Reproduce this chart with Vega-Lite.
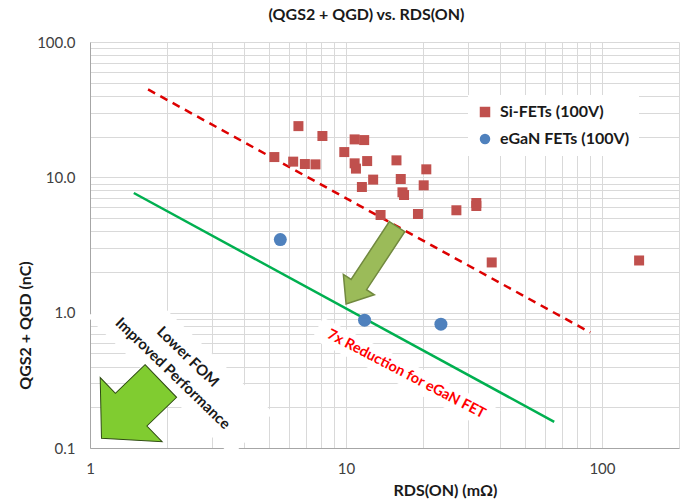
{
  "$schema": "https://vega.github.io/schema/vega-lite/v6.json",
  "width": 589,
  "height": 406,
  "autosize": {"type": "none"},
  "padding": {"left": 90, "top": 42, "right": 2, "bottom": 55},
  "background": "white",
  "config": {"font": "Lato", "view": {"stroke": null}},
  "title": {
    "text": "(QGS2 + QGD) vs. RDS(ON)",
    "fontSize": 16,
    "fontWeight": "bold",
    "font": "Lato",
    "color": "#1a1a1a",
    "anchor": "middle",
    "frame": "group",
    "dx": -18,
    "offset": 12
  },
  "datasets": {
    "fets": [
      {"series": "Si-FETs (100V)", "rds": 6.52, "q": 23.9},
      {"series": "Si-FETs (100V)", "rds": 8.09, "q": 20.2},
      {"series": "Si-FETs (100V)", "rds": 10.81, "q": 19.07},
      {"series": "Si-FETs (100V)", "rds": 11.78, "q": 18.85},
      {"series": "Si-FETs (100V)", "rds": 9.85, "q": 15.37},
      {"series": "Si-FETs (100V)", "rds": 5.25, "q": 14.12},
      {"series": "Si-FETs (100V)", "rds": 6.22, "q": 13.06},
      {"series": "Si-FETs (100V)", "rds": 6.91, "q": 12.54},
      {"series": "Si-FETs (100V)", "rds": 7.6, "q": 12.47},
      {"series": "Si-FETs (100V)", "rds": 10.81, "q": 12.69},
      {"series": "Si-FETs (100V)", "rds": 10.94, "q": 11.6},
      {"series": "Si-FETs (100V)", "rds": 12.1, "q": 13.19},
      {"series": "Si-FETs (100V)", "rds": 15.75, "q": 13.35},
      {"series": "Si-FETs (100V)", "rds": 20.6, "q": 11.46},
      {"series": "Si-FETs (100V)", "rds": 12.77, "q": 9.62},
      {"series": "Si-FETs (100V)", "rds": 16.37, "q": 9.72},
      {"series": "Si-FETs (100V)", "rds": 11.54, "q": 8.48},
      {"series": "Si-FETs (100V)", "rds": 20.12, "q": 8.73},
      {"series": "Si-FETs (100V)", "rds": 16.62, "q": 7.75},
      {"series": "Si-FETs (100V)", "rds": 16.86, "q": 7.4},
      {"series": "Si-FETs (100V)", "rds": 13.65, "q": 5.27},
      {"series": "Si-FETs (100V)", "rds": 19.11, "q": 5.36},
      {"series": "Si-FETs (100V)", "rds": 27.0, "q": 5.71},
      {"series": "Si-FETs (100V)", "rds": 32.3, "q": 6.46},
      {"series": "Si-FETs (100V)", "rds": 32.3, "q": 6.14},
      {"series": "Si-FETs (100V)", "rds": 37.1, "q": 2.35},
      {"series": "Si-FETs (100V)", "rds": 139.7, "q": 2.43},
      {"series": "eGaN FETs (100V)", "rds": 5.54, "q": 3.47},
      {"series": "eGaN FETs (100V)", "rds": 11.82, "q": 0.88},
      {"series": "eGaN FETs (100V)", "rds": 23.49, "q": 0.822}
    ],
    "trends": [
      {"trend": "Si", "rds": 1.686, "q": 44.6},
      {"trend": "Si", "rds": 90.0, "q": 0.714},
      {"trend": "eGaN", "rds": 1.483, "q": 7.66},
      {"trend": "eGaN", "rds": 65.1, "q": 0.156}
    ],
    "boxes": [
      {"box": "fom", "rds": 2.258, "q": 0.411},
      {"box": "reduction", "rds": 17.2, "q": 0.35}
    ],
    "arrows": [
      {"arrow": "reduction", "rds": 12.59, "q": 2.24},
      {"arrow": "fom", "rds": 1.448, "q": 0.192}
    ],
    "notes": [
      {"note": "Lower FOM", "group": "fom", "rds": 2.413, "q": 0.472},
      {"note": "Improved Performance", "group": "fom", "rds": 2.109, "q": 0.356},
      {"note": "7x Reduction for eGaN FET", "group": "reduction", "rds": 17.2, "q": 0.35}
    ]
  },
  "encoding": {
    "x": {
      "field": "rds",
      "type": "quantitative",
      "scale": {"type": "log", "domain": [1, 200], "nice": false},
      "axis": {
        "values": [1, 2, 3, 4, 5, 6, 7, 8, 9, 10, 20, 30, 40, 50, 60, 70, 80, 90, 100, 200],
        "labelExpr": "indexof([1,10,100], datum.value) >= 0 ? format(datum.value, 'd') : ''",
        "grid": true,
        "gridColor": "#D9D9D9",
        "gridWidth": 1,
        "ticks": false,
        "domainColor": "#A6A6A6",
        "labelFontSize": 15,
        "labelColor": "#404040",
        "labelPadding": 13,
        "labelOverlap": false,
        "labelFlush": false,
        "labelBound": false,
        "title": "RDS(ON)  (mΩ)",
        "titleFontSize": 16,
        "titleFontWeight": "bold",
        "titleColor": "#1a1a1a",
        "titleX": 355,
        "titleY": 42,
        "titleAlign": "center",
        "titleBaseline": "middle"
      }
    },
    "y": {
      "field": "q",
      "type": "quantitative",
      "scale": {"type": "log", "domain": [0.1, 100], "nice": false},
      "axis": {
        "values": [0.1, 0.2, 0.3, 0.4, 0.5, 0.6, 0.7, 0.8, 0.9, 1, 2, 3, 4, 5, 6, 7, 8, 9, 10, 20, 30, 40, 50, 60, 70, 80, 90, 100],
        "labelExpr": "indexof([0.1,1,10,100], datum.value) >= 0 ? format(datum.value, '.1f') : ''",
        "grid": true,
        "gridColor": "#D9D9D9",
        "gridWidth": 1,
        "ticks": false,
        "domainColor": "#A6A6A6",
        "labelFontSize": 15,
        "labelColor": "#404040",
        "labelPadding": 15,
        "labelOverlap": false,
        "labelFlush": false,
        "labelBound": false,
        "title": "QGS2 + QGD (nC)",
        "titleFontSize": 16,
        "titleFontWeight": "bold",
        "titleColor": "#1a1a1a",
        "titleX": -57,
        "titleY": 283
      }
    }
  },
  "layer": [
    {
      "data": {"name": "boxes"},
      "transform": [{"filter": "datum.box == 'fom'"}],
      "mark": {"type": "point", "filled": true, "fill": "white", "strokeWidth": 0, "opacity": 1, "shape": "M-1,-0.3 L1,-0.3 L1,0.3 L-1,0.3 Z", "size": 40000, "angle": 44}
    },
    {
      "data": {"name": "boxes"},
      "transform": [{"filter": "datum.box == 'reduction'"}],
      "mark": {"type": "point", "filled": true, "fill": "white", "strokeWidth": 0, "opacity": 1, "shape": "M-1,-0.12 L1,-0.12 L1,0.12 L-1,0.12 Z", "size": 40000, "angle": 27.5}
    },
    {
      "data": {"name": "trends"},
      "transform": [{"filter": "datum.trend == 'Si'"}],
      "mark": {"type": "line", "color": "#DD0000", "strokeWidth": 2.5, "strokeDash": [8, 6]},
      "encoding": {}
    },
    {
      "data": {"name": "trends"},
      "transform": [{"filter": "datum.trend == 'eGaN'"}],
      "mark": {"type": "line", "color": "#00B050", "strokeWidth": 2.5},
      "encoding": {}
    },
    {
      "data": {"name": "fets"},
      "transform": [{"filter": "datum.series == 'Si-FETs (100V)'"}],
      "mark": {"type": "point", "filled": true, "opacity": 1, "size": 100},
      "encoding": {
        "color": {
          "field": "series",
          "type": "nominal",
          "scale": {"domain": ["Si-FETs (100V)", "eGaN FETs (100V)"], "range": ["#C0504D", "#4F81BD"]},
          "legend": {
            "orient": "none",
            "legendX": 378,
            "legendY": 53,
            "title": null,
            "fillColor": "white",
            "padding": 9,
            "labelFontSize": 16,
            "labelFontWeight": "bold",
            "labelFont": "Lato",
            "labelColor": "#1a1a1a",
            "symbolSize": 110,
            "symbolOpacity": 1,
            "rowPadding": 11,
            "labelOffset": 7,
            "labelLimit": 300
          }
        },
        "shape": {
          "field": "series",
          "type": "nominal",
          "scale": {"domain": ["Si-FETs (100V)", "eGaN FETs (100V)"], "range": ["square", "circle"]}
        }
      }
    },
    {
      "data": {"name": "fets"},
      "transform": [{"filter": "datum.series == 'eGaN FETs (100V)'"}],
      "mark": {"type": "point", "filled": true, "opacity": 1, "size": 169},
      "encoding": {
        "color": {"field": "series", "type": "nominal"},
        "shape": {"field": "series", "type": "nominal"}
      }
    },
    {
      "data": {"name": "arrows"},
      "transform": [{"filter": "datum.arrow == 'reduction'"}],
      "mark": {"type": "point", "filled": true, "fill": "#9BBB59", "stroke": "#71893F", "strokeWidth": 1.5, "opacity": 1, "shape": "M-0.2,-1 L0.2,-1 L0.2,0.5 L0.4,0.5 L0,1 L-0.4,0.5 L-0.2,0.5 Z", "size": 8575, "angle": 33.4}
    },
    {
      "data": {"name": "arrows"},
      "transform": [{"filter": "datum.arrow == 'fom'"}],
      "mark": {"type": "point", "filled": true, "fill": "#80CC30", "stroke": "#2E4A12", "strokeWidth": 1, "opacity": 1, "shape": "M-0.55,-1 L0.55,-1 L0.55,0 L1.08,0 L0,1 L-1.08,0 L-0.55,0 Z", "size": 6806, "angle": 46}
    },
    {
      "data": {"name": "notes"},
      "transform": [{"filter": "datum.group == 'fom'"}],
      "mark": {"type": "text", "align": "center", "baseline": "middle", "angle": 44, "font": "Lato", "fontSize": 15, "fontWeight": "bold", "color": "#1a1a1a"},
      "encoding": {"text": {"field": "note"}}
    },
    {
      "data": {"name": "notes"},
      "transform": [{"filter": "datum.group == 'reduction'"}],
      "mark": {"type": "text", "align": "center", "baseline": "middle", "angle": 27.5, "font": "Lato", "fontSize": 14.5, "fontWeight": "bold", "color": "#FF0000"},
      "encoding": {"text": {"field": "note"}}
    }
  ]
}
